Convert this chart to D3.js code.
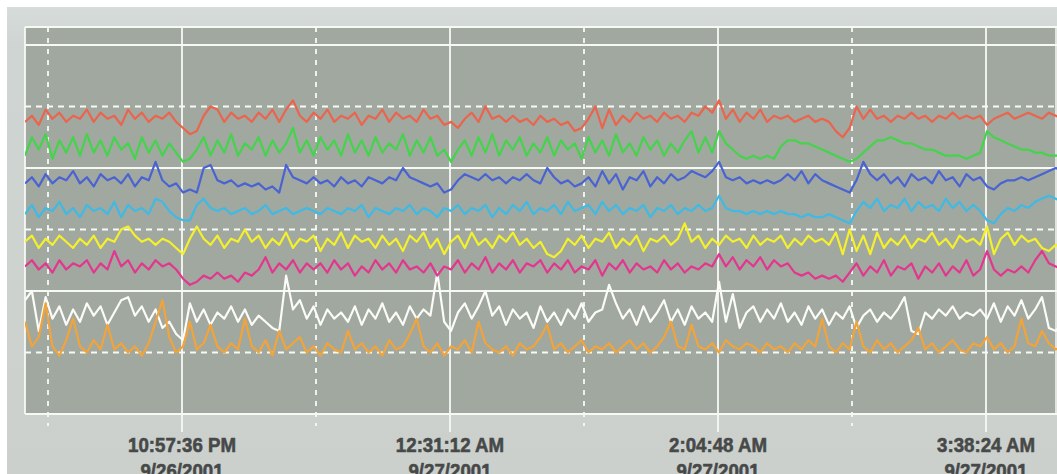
<!DOCTYPE html>
<html>
<head>
<meta charset="utf-8">
<script src="https://cdn.jsdelivr.net/npm/d3@7"></script>
<style>
  html, body { margin: 0; padding: 0; background: #ffffff; }
  svg { display: block; }
</style>
</head>
<body>
<svg id="chart" width="1057" height="474"></svg>
<script>
// Time window and sampling of the trend recorder
const startTime = "2001-09-26T22:02:46Z";
const endTime = "2001-09-27T04:03:12Z";
const sampleStepSeconds = 144;

// Labelled (solid) and intermediate (dashed) time grid lines
const majorTicks = ["2001-09-26T22:57:36Z", "2001-09-27T00:31:12Z", "2001-09-27T02:04:48Z", "2001-09-27T03:38:24Z"];
const minorTicks = ["2001-09-26T22:10:48Z", "2001-09-26T23:44:24Z", "2001-09-27T01:18:00Z", "2001-09-27T02:51:36Z"];

// Value grid lines
const solidLevels = [0, 40, 80, 120];
const dashedLevels = [20, 60, 100];

// Trend channels, one sample every sampleStepSeconds
const redTrace = [95,97,94,99,96,98,95,97,96,99, 95,98,96,97,94,99,96,98,95,97, 96,98,95, 93,91,92, 97,100,99,
  95,98,96,97,95,98,96,99,95, 99,102,97, 95,98,96,99,95,97,96,98,94,97, 96,99,95,98,96,97,95,99,96,97,
  94,95,93, 96,98,95,100,96,97,95, 97,95,96,94,97,95,96,94,95, 92,93,96, 100,93,99,94,
  97,95,98,96,97,95,98,96,97,95,98, 97,100,98, 102, 96,99,95,98,96,99,95,97,96, 97,95,96,97,95,96,95,
  92,90,93, 100,96,99, 96,97,95,97,96,98,96,97,95,97,96,98,96,97,96,97, 94, 96,97,98,96,97,98,97,96,98,97,96];

const greenTrace = [84,90,86,91,83,89,85,90,84,91, 85,89,84,90,86,88,83,90,85,89, 84,88,85, 82,83,
  86,90,84,89,85,91,84,88,86,90,84,89,85,88, 93, 85,89,84,90,86,89,84,91,85,89,
  84,90,85,88,86,91,84,89,85,90,84,86, 82, 86,89,84,90,85,91,84,89,86,90,84,88,85,90,
  84,89,86,88,83,90,85,89,84,91,85,88,84,90,86,89,84,88,85,89, 92,85, 90,85,92, 88,86,84,
  83,84,83,84,83, 87,89, 89,88,88,87,86, 85,84,83,82, 83,85,87,89, 89,90,89,88,
  88,87,86,86,85,84,84, 84,83,84,85, 92,90, 89,88,87,86,86,85,85,84,84,84];

const blueTrace = [75,77,74,78,75,77,76,79,75,77,74,78,76,77,75,78,74,77,76, 82, 76,74,75, 72,73,72, 80,81,
  76,75,76,74,75,74,75,73,74, 72, 81, 77,76,75,77,75,76,74,77,75,76,74,77,76,75,77,76, 80,
  77,76,75,74,75, 72,73, 76,78,77,76,78,76,77,75,77,76,78,76,75, 80, 77,75,76,74,75,
  77,74,79,75,78,73,77,76,79,74,77,75,78,76,77, 79,78, 77,79,82, 77,76,77,75,76,75,76,75,76,
  78,76,79,75,78,76, 75,74,73,72, 76,82,78, 76,78,75,77,74,78,76,77,75,79,76,77,74,78,76,77,
  74,73, 75,76,76,77,76,77, 78,79,80,79];

const cyanTrace = [65,68,64,67,66,69,65,67,64,68,66,67,65,69,64,68,66,67,65, 70,69, 66,64,63,63, 68,70,67,
  66,67,65,66,67,65,66,68,65,66,67,65,66,67,66,65,67,66,
  65,67,66,68,64,67,66,65,67,66,68,65,67,66,64,67,66,68,65,67,66,68,64,67,65,68,66,69,65,67,
  66,68,65,69,66,67,68,65,69,66,68,65,67,66,68,64,67,66,68,65,67,66,68,66,67,
  71, 67,66,66,65,66,65,66,65,66, 65,65,64,65,64,64,65,64, 63,62,
  66,69,67,70,66,68,67,70,66,69,67,68,66,70,67,69,66,68,66, 63,62, 65,67,66,68,67,69, 70,71,70,69];

const yellowTrace = [56,58,54,57,55,58,56,54,57,55,58,54,57,56, 60,61, 58,56,57,55,57,56,54, 52, 57,61,57,
  55,58,54,57,56, 60,
  56,58,54,57,55,59,54,57,56,58,53,57,55,59,54,58,56,57,54,58,55,57,53,58,56,59,54,57, 52,
  56,58,54,59,55,57,54,58,56,59,55,57,54,56, 52,51,53,
  57,55,58,54,57,56,59,54,57,55,58,53,57,56,58,55,57, 62, 56,58,54,57,
  55,58,56,57,54,58,55,57,56,58,54,57,55,58,56,57,55, 59,52,60,53,58,52,59,54,
  57,55,58,54,57,56,59,55,57,54,58,56,57,55, 61,52, 57,59,55,58,56,57, 54,53,55,54];

const magentaTrace = [48,50,47,49,46,50,47,49,48,50,46,49,47, 53, 48,50,46,49,47,50,48,49,47, 44,42,43,
  45,44,46,44,45,43,46,45, 47,51,46,49,47,50,46,49,47,
  49,46,50,47,49,45,48,46,50,47,49,46,50,47,48,46,49,45,48,47,50,46,49,47,51,46,49,47,50,46,
  49,48,50,46,49,47,50,46,48,47,50,45,49,47,50,46,49,47,48,46,50,47,49,46,48,47,49,48,
  52, 48,51,47,50,48,51,47,50,48,49, 46,45,46,44,45,44,45, 43,
  46,49,45,48,46,50,45,48,47,49,44,48,46,49,45,48,46,50,45,47, 53, 47,45,47,46,48,46, 50,53, 49,48,47];

const whiteTrace = [37,40,27,38, 31,35,29,34,30,36,32,35,29,33, 37,38, 32,35,30,34, 28,30,26, 24, 36,
  30,34,29,33,31,35,30,34,29,32,30, 28,27, 45, 34,37,31,35,29,34,31,
  33,30,35,29,34,31,36,30,33,29,35,31,34,32, 46, 30,27, 33,36,31,35, 40,
  32,35,29,34,31,33,28,35,30,33,29,34,31,36,30,33,34, 42,
  36,31,34,29,35,30,33,37,30,34,29,35,31,33,30, 43, 30,39,28,
  33,35,30,34,31,36,30,33,29,35,31, 34,29,33,31,35,28,32,34,30,33,31,34, 38, 27,26,
  33,31,34,32,35,31,33,32,34, 31,36,30,35,32,37,31,34, 38, 28,27,30];

const orangeTrace = [30,22,25, 36, 22,19,24, 31, 22,20,24,21, 29, 21,23,20,22,19,23, 30,37, 25,20,22, 30,
  21,23,29, 22,20,23,21, 31, 22,20,24,19, 27, 21,23,25, 20,22,19,23,21,20, 27,
  21,23,20,22,19,24,21,22, 26,31, 22,20,23,19,22,21,24,20, 30, 23,21,20,22,19,23,21,22, 25,29,
  21,23,20,22,24,20,22,21,23,20,22,24,21,23,20,22,25, 30, 22,21, 29,
  22,21,23,20,24,22,21,23,22,20,23,21,22,20,23,21,24,22, 31, 22,20,23,21, 30,
  22,20,24,21,23,20,22,24, 28, 21,23,20,22,24,21,20,23,22,25,21,23,20,22, 31, 23,22, 27, 23,21,22];

const channels = [
  { values: whiteTrace,   color: "#fbfbf7" },
  { values: orangeTrace,  color: "#f2a43a" },
  { values: magentaTrace, color: "#e2368f" },
  { values: yellowTrace,  color: "#f4f02c" },
  { values: cyanTrace,    color: "#3ebae4" },
  { values: blueTrace,    color: "#4a63d2" },
  { values: greenTrace,   color: "#44d44c" },
  { values: redTrace,     color: "#ea644e" }
];

const W = 1057, H = 474;
const plot = { left: 25, right: 1057, top: 27, bottom: 414 };

const svg = d3.select("#chart");

// page panel
const defs = svg.append("defs");
const grad = defs.append("linearGradient").attr("id", "panelGrad").attr("x1", 0).attr("y1", 0).attr("x2", 0).attr("y2", 1);
grad.append("stop").attr("offset", "0%").attr("stop-color", "#d6dcda");
grad.append("stop").attr("offset", "8%").attr("stop-color", "#cfd5d2");
grad.append("stop").attr("offset", "100%").attr("stop-color", "#cbd0cc");

svg.append("rect").attr("width", W).attr("height", H).attr("fill", "#ffffff");
svg.append("rect").attr("x", 7).attr("y", 7).attr("width", W - 7).attr("height", H - 7).attr("fill", "url(#panelGrad)");

defs.append("clipPath").attr("id", "plotClip")
  .append("rect").attr("x", plot.left).attr("y", plot.top).attr("width", plot.right - plot.left).attr("height", plot.bottom - plot.top);

const x = d3.scaleUtc()
  .domain([new Date(startTime), new Date(endTime)])
  .range([plot.left, plot.right]);

const y = d3.scaleLinear()
  .domain([0, 120])
  .range([plot.bottom, 45]);

// plot area
svg.append("rect")
  .attr("x", plot.left).attr("y", plot.top)
  .attr("width", plot.right - plot.left).attr("height", plot.bottom - plot.top)
  .attr("fill", "#a1a89f");

const gridColor = "#f7f9f5";
const grid = svg.append("g");

// horizontal grid
grid.selectAll(".hsolid").data(solidLevels).join("line")
  .attr("x1", plot.left).attr("x2", plot.right)
  .attr("y1", d => y(d)).attr("y2", d => y(d))
  .attr("stroke", gridColor).attr("stroke-width", 1.8);
grid.selectAll(".hdash").data(dashedLevels).join("line")
  .attr("x1", plot.left).attr("x2", plot.right)
  .attr("y1", d => y(d)).attr("y2", d => y(d))
  .attr("stroke", gridColor).attr("stroke-width", 1.8)
  .attr("stroke-dasharray", "6,5");

// frame
grid.append("line").attr("x1", plot.left).attr("x2", plot.right).attr("y1", plot.top).attr("y2", plot.top)
  .attr("stroke", gridColor).attr("stroke-width", 1.8);
grid.append("line").attr("x1", plot.left).attr("x2", plot.left).attr("y1", plot.top).attr("y2", plot.bottom)
  .attr("stroke", gridColor).attr("stroke-width", 1.8);
grid.append("line").attr("x1", plot.right - 1).attr("x2", plot.right - 1).attr("y1", plot.top).attr("y2", plot.bottom)
  .attr("stroke", gridColor).attr("stroke-width", 1.5);

// vertical grid with tick extensions below the plot
grid.selectAll(".vsolid").data(majorTicks.map(d => new Date(d))).join("line")
  .attr("x1", d => x(d)).attr("x2", d => x(d))
  .attr("y1", plot.top).attr("y2", plot.bottom + 18)
  .attr("stroke", gridColor).attr("stroke-width", 1.8);
grid.selectAll(".vdash").data(minorTicks.map(d => new Date(d))).join("line")
  .attr("x1", d => x(d)).attr("x2", d => x(d))
  .attr("y1", plot.top).attr("y2", plot.bottom + 12)
  .attr("stroke", gridColor).attr("stroke-width", 1.8)
  .attr("stroke-dasharray", "5,6");

// traces
const t0 = new Date(startTime).getTime();
const line = d3.line()
  .x((d, i) => x(new Date(t0 + i * sampleStepSeconds * 1000)))
  .y(d => y(d));

svg.append("g").attr("clip-path", "url(#plotClip)")
  .selectAll("path").data(channels).join("path")
  .attr("d", d => line(d.values))
  .attr("fill", "none")
  .attr("stroke", d => d.color)
  .attr("stroke-width", 2.2)
  .attr("stroke-linejoin", "round");

// time labels
const fmtTime = d3.utcFormat("%-I:%M:%S %p");
const fmtDate = d3.utcFormat("%-m/%-d/%Y");
const labelColor = "#474949";
const labels = svg.append("g")
  .attr("font-family", "'Liberation Sans', Arial, sans-serif")
  .attr("font-weight", "bold")
  .attr("font-size", 21)
  .attr("fill", labelColor)
  .attr("stroke", labelColor)
  .attr("stroke-width", 0.6);

majorTicks.map(d => new Date(d)).forEach(t => {
  const g = labels.append("g").attr("transform", `translate(${x(t)},0) scale(0.89,1)`);
  g.append("text").attr("x", 0).attr("y", 452.5).attr("text-anchor", "middle").text(fmtTime(t));
  g.append("text").attr("x", 0).attr("y", 478).attr("text-anchor", "middle").text(fmtDate(t));
});
</script>
</body>
</html>
